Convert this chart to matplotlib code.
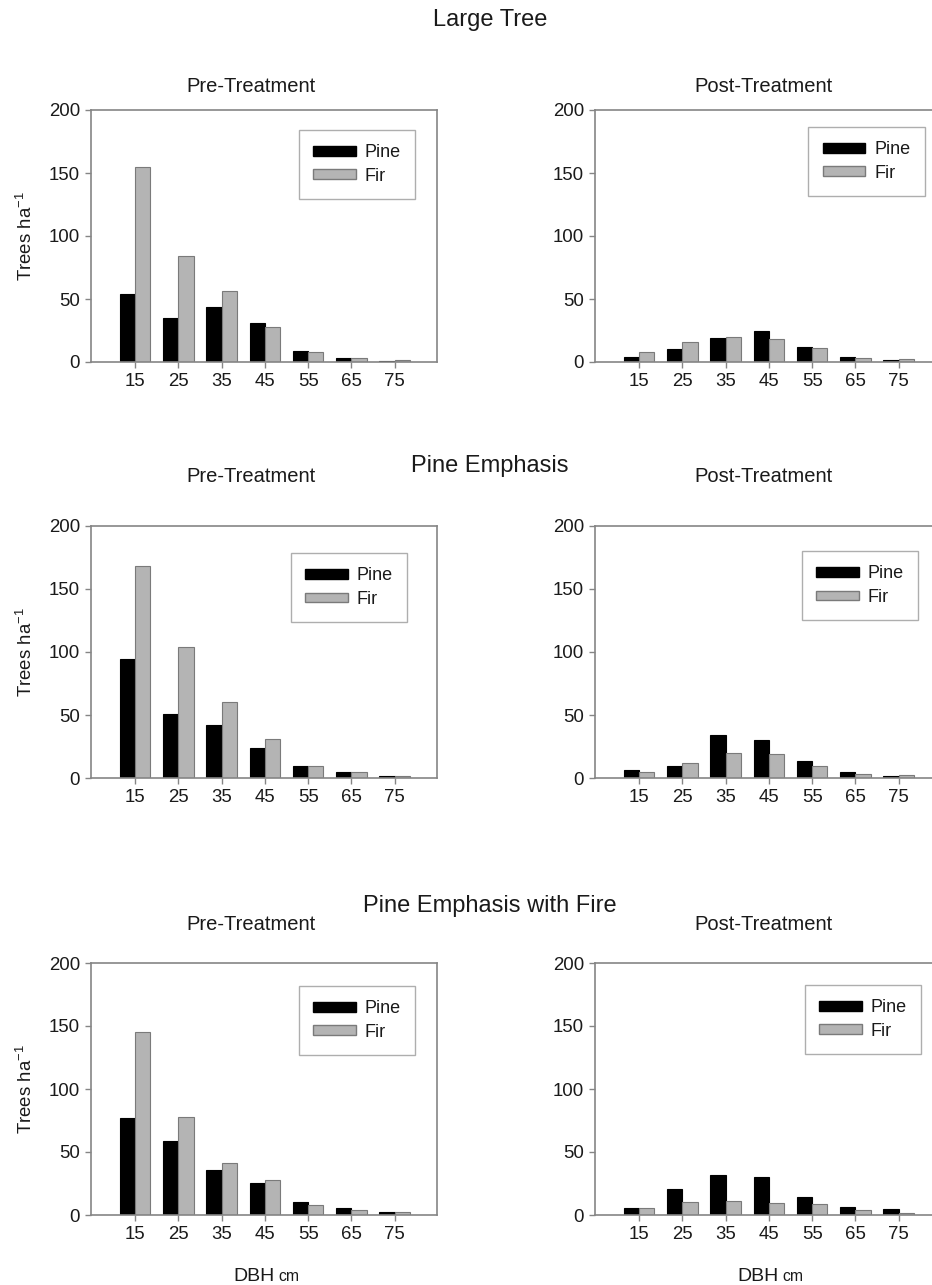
import matplotlib

matplotlib.use("Agg")
import matplotlib.pyplot as plt
from matplotlib import font_manager
from matplotlib.patches import Patch

# DBH class midpoints (cm)
DBH = [15, 25, 35, 45, 55, 65, 75]

# Trees per hectare by DBH class
LT_PRE_PINE = [54, 35, 44, 31, 9, 3, 1]
LT_PRE_FIR = [155, 84, 56, 28, 8, 3, 1.5]
LT_POST_PINE = [4, 10, 19, 25, 12, 4, 1.5]
LT_POST_FIR = [8, 16, 20, 18, 11, 3.5, 2]

PE_PRE_PINE = [94, 51, 42, 24, 10, 5, 2]
PE_PRE_FIR = [168, 104, 60, 31, 10, 5, 1.5]
PE_POST_PINE = [6.5, 10, 34, 30, 14, 5, 2]
PE_POST_FIR = [5, 12.5, 20, 19.5, 9.5, 3.5, 3]

PEF_PRE_PINE = [77, 58.5, 36, 25.5, 10.5, 5.5, 2]
PEF_PRE_FIR = [145, 78, 41.5, 27.5, 8, 4, 2]
PEF_POST_PINE = [5.5, 21, 32, 30.5, 14.5, 6, 5]
PEF_POST_FIR = [5.5, 10.5, 11, 9.5, 9, 4, 1.5]

ROW_TITLES = ["Large Tree", "Pine Emphasis", "Pine Emphasis with Fire"]
PANEL_TITLES = ["Pre-Treatment", "Post-Treatment"]

W, H = 932, 1285
PINE_COLOR = "black"
FIR_COLOR = "#b4b4b4"
FIR_EDGE = "#7a7a7a"
AXIS_GRAY = "#858585"
TEXT = "#1a1a1a"

names = {f.name for f in font_manager.fontManager.ttflist}
NARROW = "Liberation Sans Narrow" if "Liberation Sans Narrow" in names else "Liberation Sans"

plt.rcParams.update({
    "font.family": ["Liberation Sans", "DejaVu Sans"],
    "mathtext.fontset": "custom",
    "mathtext.rm": "Liberation Sans",
    "mathtext.it": "Liberation Sans",
})


def px_axes(fig, left, top, right, bottom):
    return fig.add_axes([left / W, 1 - bottom / H, (right - left) / W, (bottom - top) / H])


def draw_panel(ax, pine, fir, legend_at, ylabel):
    bw = 3.5
    ax.bar(DBH, pine, width=-bw, align="edge", color=PINE_COLOR,
           edgecolor="black", linewidth=0.8, label="Pine", zorder=2)
    ax.bar(DBH, fir, width=bw, align="edge", color=FIR_COLOR,
           edgecolor=FIR_EDGE, linewidth=0.8, label="Fir", zorder=2)
    ax.set_xlim(4.8, 84.8)
    ax.set_ylim(0, 200)
    ax.set_xticks(DBH)
    ax.set_yticks([0, 50, 100, 150, 200])
    for spine in ax.spines.values():
        spine.set_color(AXIS_GRAY)
        spine.set_linewidth(1.2)
    ax.tick_params(direction="out", length=4, width=1.0, color=AXIS_GRAY,
                   labelsize=13.4, labelcolor=TEXT, pad=4)
    if ylabel:
        ax.set_ylabel("Trees ha$^{-1}$", fontsize=13.4, color=TEXT, labelpad=9)
    handles = [Patch(facecolor=PINE_COLOR, edgecolor="black", label="Pine"),
               Patch(facecolor=FIR_COLOR, edgecolor=FIR_EDGE, label="Fir")]
    leg = ax.legend(handles=handles, loc="upper left", bbox_to_anchor=legend_at,
                    borderaxespad=0, fancybox=False, fontsize=13,
                    handlelength=2.35, handleheight=0.45, handletextpad=0.5,
                    labelspacing=0.35, borderpad=0.8)
    leg.get_frame().set_edgecolor("#9a9a9a")
    leg.get_frame().set_linewidth(1.0)
    for t in leg.get_texts():
        t.set_color(TEXT)


fig = plt.figure(figsize=(W / 100, H / 100), dpi=100)

series = [
    (LT_PRE_PINE, LT_PRE_FIR, LT_POST_PINE, LT_POST_FIR),
    (PE_PRE_PINE, PE_PRE_FIR, PE_POST_PINE, PE_POST_FIR),
    (PEF_PRE_PINE, PEF_PRE_FIR, PEF_POST_PINE, PEF_POST_FIR),
]
# panel rows: (top, bottom) in pixels
rows = [(110, 362), (525.5, 778.3), (963, 1215)]
cols = [(91, 437), (595, 941)]
legend_anchor = [
    [(0.601, 0.921), (0.616, 0.933)],
    [(0.578, 0.891), (0.598, 0.899)],
    [(0.601, 0.909), (0.607, 0.913)],
]
title_y = [20, 466, 906]
subtitle_y = [86, 477, 925]
subtitle_x = [251, 764]

for r, (top, bottom) in enumerate(rows):
    pre_pine, pre_fir, post_pine, post_fir = series[r]
    for c, (left, right) in enumerate(cols):
        ax = px_axes(fig, left, top, right, bottom)
        pine, fir = (pre_pine, pre_fir) if c == 0 else (post_pine, post_fir)
        draw_panel(ax, pine, fir, legend_anchor[r][c], ylabel=(c == 0))
        fig.text(subtitle_x[c] / W, 1 - subtitle_y[r] / H, PANEL_TITLES[c],
                 ha="center", va="center", fontsize=14.5, family=NARROW,
                 color=TEXT)
        if r == 2:
            xc = (left + right) / 2 / W + 0.011
            fig.text(xc, 1 - 1281 / H, "DBH", ha="right", va="baseline",
                     fontsize=14, color=TEXT)
            fig.text(xc + 4 / W, 1 - 1281 / H, "cm", ha="left", va="baseline",
                     fontsize=11.3, color=TEXT)
    fig.text(490 / W, 1 - title_y[r] / H, ROW_TITLES[r], ha="center",
             va="center", fontsize=17, family=NARROW, color=TEXT)

fig.savefig("out.png", dpi=100)
